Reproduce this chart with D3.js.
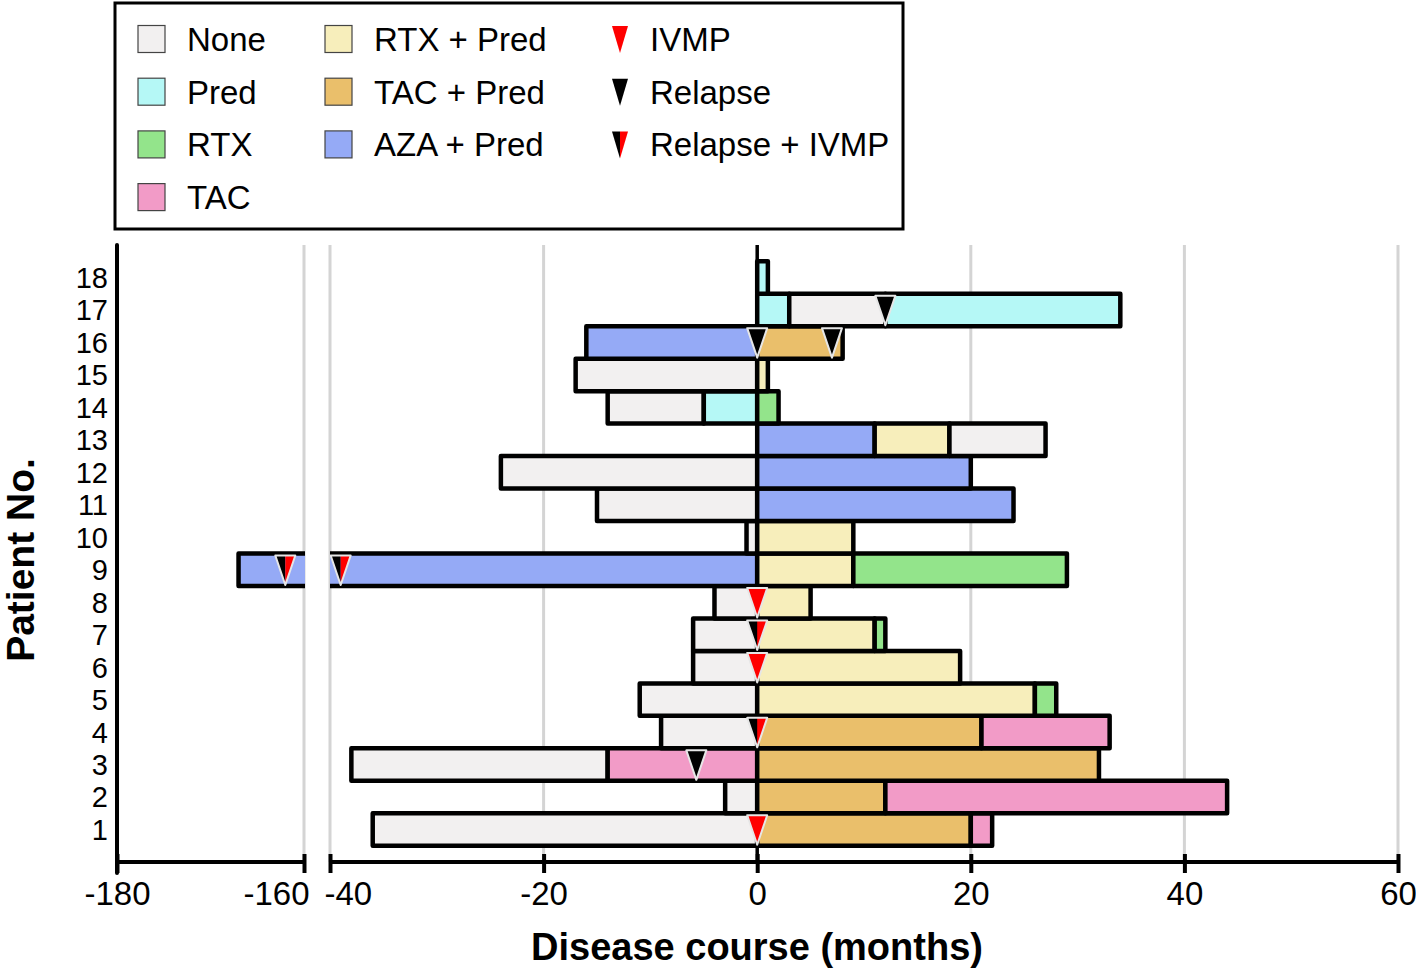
<!DOCTYPE html>
<html><head><meta charset="utf-8">
<script src="https://cdn.jsdelivr.net/npm/d3@7"></script>
<style>body{margin:0;background:#fff;} text{font-family:"Liberation Sans",Arial,sans-serif;fill:#000;}</style>
</head><body><svg id="c" width="1416" height="971"></svg>
<script>
const patients = d3.range(1, 19);
const treatments = ["None","Pred","RTX","TAC","RTX + Pred","TAC + Pred","AZA + Pred"];
const treatmentColors = ["#f2f0f0","#b5f8f6","#93e48b","#f29bc7","#f7eebb","#eabf6b","#95aaf6"];
const eventTypes = ["IVMP","Relapse","Relapse + IVMP"];
// [patient, start, end, treatment]
const segments = [
 [1,-36,0,"None"],[1,0,20,"TAC + Pred"],[1,20,22,"TAC"],
 [2,-3,0,"None"],[2,0,12,"TAC + Pred"],[2,12,44,"TAC"],
 [3,-38,-14,"None"],[3,-14,0,"TAC"],[3,0,32,"TAC + Pred"],
 [4,-9,0,"None"],[4,0,21,"TAC + Pred"],[4,21,33,"TAC"],
 [5,-11,0,"None"],[5,0,26,"RTX + Pred"],[5,26,28,"RTX"],
 [6,-6,0,"None"],[6,0,19,"RTX + Pred"],
 [7,-6,0,"None"],[7,0,11,"RTX + Pred"],[7,11,12,"RTX"],
 [8,-4,0,"None"],[8,0,5,"RTX + Pred"],
 [9,-167,0,"AZA + Pred"],[9,0,9,"RTX + Pred"],[9,9,29,"RTX"],
 [10,-1,0,"None"],[10,0,9,"RTX + Pred"],
 [11,-15,0,"None"],[11,0,24,"AZA + Pred"],
 [12,-24,0,"None"],[12,0,20,"AZA + Pred"],
 [13,0,11,"AZA + Pred"],[13,11,18,"RTX + Pred"],[13,18,27,"None"],
 [14,-14,-5,"None"],[14,-5,0,"Pred"],[14,0,2,"RTX"],
 [15,-17,0,"None"],[15,0,1,"RTX + Pred"],
 [16,-16,0,"AZA + Pred"],[16,0,8,"TAC + Pred"],
 [17,0,3,"Pred"],[17,3,12,"None"],[17,12,34,"Pred"],
 [18,0,1,"Pred"]
];
// [patient, time, event]
const events = [
 [1,0,"IVMP"],[3,-5.7,"Relapse"],[4,0,"Relapse + IVMP"],[6,0,"IVMP"],[7,0,"Relapse + IVMP"],
 [8,0,"IVMP"],[9,-162,"Relapse + IVMP"],[9,-39,"Relapse + IVMP"],
 [16,0,"Relapse"],[16,7,"Relapse"],[17,12,"Relapse"]
];
const leftTicks = [-180,-160];
const rightTicks = [-40,-20,0,20,40,60];
const leftDomain = [-180,-160];
const rightDomain = [-40,60];

const svg = d3.select("#c");
const plotTop = 245, plotBottom = 862;
const color = d3.scaleOrdinal().domain(treatments).range(treatmentColors);
const y = d3.scaleBand().domain(patients).range([plotBottom, plotTop]).paddingInner(0).paddingOuter(0.5);
const xL = d3.scaleLinear().domain(leftDomain).range([117, 304]);
const xR = d3.scaleLinear().domain(rightDomain).range([330, 1398]);
const panels = [{x: xL, ticks: leftTicks, id: "L"}, {x: xR, ticks: rightTicks, id: "R"}];

const defs = svg.append("defs");
panels.forEach(p => {
  const r = p.x.range();
  defs.append("clipPath").attr("id", "clip" + p.id).append("rect")
    .attr("x", r[0]).attr("y", 0).attr("width", r[1] - r[0] + 1).attr("height", 971);
});

// gridlines
panels.forEach(p => {
  svg.append("g").selectAll("line").data(p.ticks.filter(t => t !== 0 && t !== -180)).join("line")
    .attr("x1", d => p.x(d)).attr("x2", d => p.x(d)).attr("y1", plotTop).attr("y2", plotBottom)
    .attr("stroke", "#d4d4d4").attr("stroke-width", 3);
});
// zero line
svg.append("line").attr("x1", xR(0)).attr("x2", xR(0)).attr("y1", plotTop).attr("y2", plotBottom)
  .attr("stroke", "#000").attr("stroke-width", 3.5);

// bars
panels.forEach(p => {
  const g = svg.append("g").attr("clip-path", `url(#clip${p.id})`);
  g.selectAll("rect").data(segments).join("rect")
    .attr("x", d => p.x(d[1])).attr("width", d => p.x(d[2]) - p.x(d[1]))
    .attr("y", d => y(d[0])).attr("height", y.bandwidth())
    .attr("fill", d => color(d[3])).attr("stroke", "#000").attr("stroke-width", 4.5)
    .attr("stroke-linejoin", "round");
});

// markers
function drawMarker(g, cx, ty, type, w, h, outline) {
  const half = w / 2;
  if (type === "Relapse + IVMP") {
    g.append("path").attr("d", `M${cx-half},${ty}L${cx},${ty}L${cx},${ty+h}Z`).attr("fill", "#000");
    g.append("path").attr("d", `M${cx},${ty}L${cx+half},${ty}L${cx},${ty+h}Z`).attr("fill", "#ff0000");
  } else {
    g.append("path").attr("d", `M${cx-half},${ty}L${cx+half},${ty}L${cx},${ty+h}Z`)
      .attr("fill", type === "IVMP" ? "#ff0000" : "#000");
  }
  if (outline) {
    g.append("path").attr("d", `M${cx-half},${ty}L${cx+half},${ty}L${cx},${ty+h}Z`)
      .attr("fill", "none").attr("stroke", "#e6e6e6").attr("stroke-width", 2).attr("stroke-linejoin", "round");
  }
}
panels.forEach(p => {
  const g = svg.append("g").attr("clip-path", `url(#clip${p.id})`);
  events.forEach(e => {
    const d = p.x.domain();
    if (e[1] < d[0] || e[1] > d[1]) return;
    drawMarker(g, p.x(e[1]), y(e[0]) + 2, e[2], 20, y.bandwidth() - 3, true);
  });
});

// x axes
panels.forEach(p => {
  const ax = svg.append("g").attr("transform", `translate(0,${plotBottom})`)
    .call(d3.axisBottom(p.x).tickValues(p.ticks).tickSize(11).tickPadding(6).tickFormat(d => String(d)));
  ax.select(".domain").attr("stroke", "#000").attr("stroke-width", 4)
    .attr("d", `M${p.x.range()[0]},0H${p.x.range()[1]}`);
  ax.selectAll(".tick line").attr("stroke", "#000").attr("stroke-width", 4).attr("y1", -8).attr("y2", 11);
  ax.selectAll(".tick text").attr("font-size", 33).attr("fill", "#000").attr("dy", "0.71em").attr("y", 20);
  // labels next to the axis break sit beside their ticks
  ax.selectAll(".tick text").filter(d => d === -160).attr("text-anchor", "end").attr("x", 5);
  ax.selectAll(".tick text").filter(d => d === -40).attr("text-anchor", "start").attr("x", -6);
});

// y axis
svg.append("line").attr("x1", 117).attr("x2", 117).attr("y1", plotTop).attr("y2", plotBottom + 11)
  .attr("stroke", "#000").attr("stroke-width", 4).attr("stroke-linecap", "round");
svg.append("g").selectAll("text").data(patients).join("text")
  .attr("x", 108).attr("y", d => y(d) + y.bandwidth() / 2).attr("dy", "0.36em")
  .attr("text-anchor", "end").attr("font-size", 29).text(d => d);

// axis titles
svg.append("text").attr("x", 757).attr("y", 960).attr("text-anchor", "middle")
  .attr("font-size", 38).attr("font-weight", "bold").text("Disease course (months)");
svg.append("text").attr("transform", "translate(34,560) rotate(-90)").attr("text-anchor", "middle")
  .attr("font-size", 39).attr("font-weight", "bold").text("Patient No.");

// legend
const lg = svg.append("g");
lg.append("rect").attr("x", 115).attr("y", 3).attr("width", 788).attr("height", 226)
  .attr("fill", "#fff").attr("stroke", "#000").attr("stroke-width", 3);
const rowY = i => 39 + i * 52.7;
treatments.forEach((t, i) => {
  const col = i < 4 ? 0 : 1, row = i < 4 ? i : i - 4;
  const sx = col === 0 ? 138 : 325;
  lg.append("rect").attr("x", sx).attr("y", rowY(row) - 13.5).attr("width", 27).attr("height", 27)
    .attr("fill", color(t)).attr("stroke", "#444").attr("stroke-width", 1.2);
  lg.append("text").attr("x", sx + 49).attr("y", rowY(row)).attr("dy", "0.36em")
    .attr("font-size", 33).text(t);
});
eventTypes.forEach((t, i) => {
  drawMarker(lg, 620, rowY(i) - 13, t, 16, 27, false);
  lg.append("text").attr("x", 650).attr("y", rowY(i)).attr("dy", "0.36em").attr("font-size", 33).text(t);
});
</script></body></html>
